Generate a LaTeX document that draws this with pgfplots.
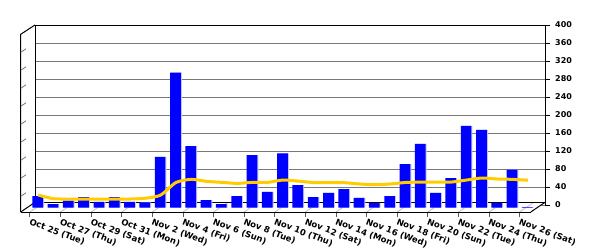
\documentclass[border=0pt]{standalone}
\usepackage{pgfplots}
\pgfplotsset{compat=1.18}
\usepackage{fontspec}
\setmainfont{DejaVu Sans}
\definecolor{barblue}{RGB}{0,0,255}
\definecolor{barside}{RGB}{195,195,255}
\definecolor{avgline}{RGB}{255,204,0}
\definecolor{gridgray}{RGB}{120,120,120}
\newcommand{\lblfont}{\bfseries\fontsize{8}{9}\selectfont}
\newcommand{\xlblfont}{\bfseries\fontsize{8.5}{9}\selectfont}
\begin{document}
\begin{tikzpicture}
\path[use as bounding box] (0,0) rectangle (600pt,250pt);
% back wall
\begin{axis}[at={(35pt,45pt)}, anchor=south west, scale only axis,
  width=510pt, height=180pt, xmin=-0.601, xmax=32.73, ymin=0, ymax=400,
  axis x line=none, axis y line*=right,
  y axis line style={-, black, line width=1pt},
  ytick={0,40,...,400}, ymajorgrids, grid style={gridgray, line width=1pt},
  tick align=outside, major tick length=5pt,
  ytick style={black, line width=1pt},
  /pgf/number format/assume math mode=true,
  yticklabel style={font=\lblfont, anchor=west, inner sep=0pt, xshift=5pt}]
\addplot[draw=none] coordinates {(0,0)};
\end{axis}
% floor
\fill[white] (35pt,47.7pt) -- (545pt,47.7pt) -- (530.8pt,38pt) -- (20.7pt,38pt) -- cycle;
\foreach \i in {0,2,...,32} {
  \draw[black!25, line width=0.8pt] ({30pt+15.3pt*\i},38pt) -- ({44.3pt+15.3pt*\i},47.7pt);
}
\draw[black, line width=1pt] (35pt,47.7pt) -- (545pt,47.7pt);
\draw[black, line width=1pt] (35pt,47.7pt) -- (35pt,225pt) -- (545pt,225pt);
\draw[black, line width=1pt] (20.7pt,38pt) -- (20.7pt,215.7pt) -- (35pt,225pt);
\draw[black, line width=1pt] (20.7pt,38pt) -- (35pt,47.7pt);
\draw[black, line width=1pt] (530.8pt,38pt) -- (545pt,47.7pt);
\foreach \g in {40,80,...,360} {
  \draw[gridgray, line width=0.8pt] (20.7pt,{35.7pt+0.45pt*\g}) -- (26pt,{39.2pt+0.45pt*\g});
}
% bars and line
\begin{axis}[at={(29pt,42.3pt)}, anchor=south west, scale only axis,
  width=510pt, height=180pt, xmin=-0.601, xmax=32.73, ymin=0, ymax=400,
  axis lines=none, clip=false]
\addplot[ybar, bar width=10.7pt, bar shift=0.5pt, fill=barside, draw=none] coordinates {
(0,26) (1,8) (2,15.6) (3,23.7) (4,12.7) (5,23.7) (6,12.7) (7,12) (8,112.7) (9,300)
(10,137) (11,17) (12,8) (13,26) (14,117) (15,35) (16,121) (17,50) (18,23.7) (19,32.7)
(20,41.5) (21,21.6) (22,10.4) (23,26) (24,97) (25,141.6) (26,32.7) (27,66) (28,181.6)
(29,172.7) (30,10.4) (31,84.5) (32,1.5)};
\addplot[ybar, bar width=10.7pt, bar shift=-0.5pt, fill=barblue, draw=none] coordinates {
(0,26) (1,8) (2,15.6) (3,23.7) (4,12.7) (5,23.7) (6,12.7) (7,12) (8,112.7) (9,300)
(10,137) (11,17) (12,8) (13,26) (14,117) (15,35) (16,121) (17,50) (18,23.7) (19,32.7)
(20,41.5) (21,21.6) (22,10.4) (23,26) (24,97) (25,141.6) (26,32.7) (27,66) (28,181.6)
(29,172.7) (30,10.4) (31,84.5) (32,1.5)};
\addplot[avgline, line width=3pt, smooth, tension=0.4, mark=none] coordinates {
(0,28) (1,20) (2,19.3) (3,19.3) (4,19.3) (5,19.3) (6,19.3) (7,21) (8,28) (9,56)
(10,63) (11,58.6) (12,56.3) (13,54) (14,56.3) (15,56.3) (16,61.5) (17,59) (18,56) (19,56)
(20,55.6) (21,52.7) (22,51) (23,52.7) (24,56) (25,57) (26,57) (27,57) (28,61.5)
(29,66) (30,63.8) (31,63) (32,61)};
\end{axis}
% front edge with date labels
\begin{axis}[at={(20.8pt,38pt)}, anchor=south west, scale only axis,
  width=510pt, height=177pt, xmin=-0.601, xmax=32.73, ymin=0, ymax=1,
  axis x line*=bottom, axis y line=none,
  x axis line style={-, black, line width=1pt},
  xtick={0,2,...,32},
  xticklabels={Oct 25 (Tue),Oct 27 (Thu),Oct 29 (Sat),Oct 31 (Mon),Nov 2 (Wed),Nov 4 (Fri),Nov 6 (Sun),Nov 8 (Tue),Nov 10 (Thu),Nov 12 (Sat),Nov 14 (Mon),Nov 16 (Wed),Nov 18 (Fri),Nov 20 (Sun),Nov 22 (Tue),Nov 24 (Thu),Nov 26 (Sat)},
  tick align=outside, major tick length=4.5pt,
  xtick style={black!65, line width=1pt},
  xticklabel style={font=\xlblfont, rotate=-21, anchor=north west, inner sep=0pt, xshift=1.5pt, yshift=-1pt}]
\addplot[draw=none] coordinates {(0,0)};
\end{axis}
\end{tikzpicture}
\end{document}
